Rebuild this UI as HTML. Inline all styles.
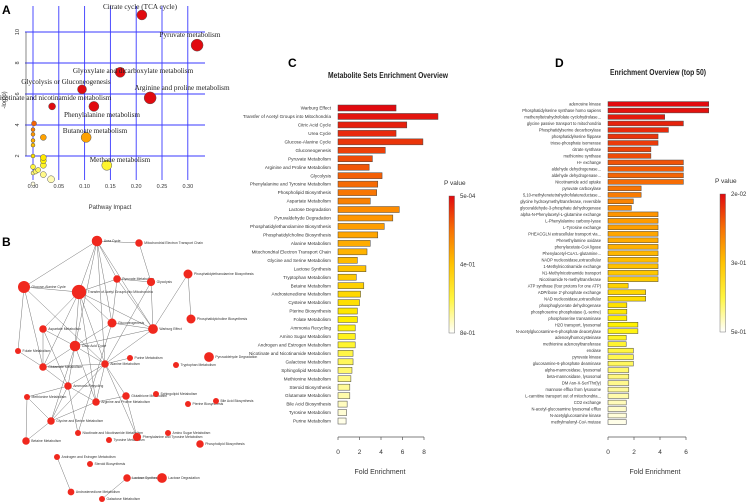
<!DOCTYPE html>
<html><head><meta charset="utf-8"><style>
html,body{margin:0;padding:0;background:#fff;}
svg{display:block;font-family:"Liberation Sans",sans-serif;}
</style></head><body>
<svg id="fig" width="748" height="504" viewBox="0 0 748 504" xmlns="http://www.w3.org/2000/svg">
<g id="pa"></g>
<g id="pb"></g>
<g id="pc"></g>
<g id="pd"></g>
<text x="2" y="14" font-size="12" font-weight="bold">A</text>
<text x="2" y="246" font-size="12" font-weight="bold">B</text>
<text x="288" y="67" font-size="12" font-weight="bold">C</text>
<text x="555" y="67" font-size="12" font-weight="bold">D</text>
</svg>
<script>
// ---------- Panel A data ----------
const aNames = ["Citrate cycle (TCA cycle)","Pyruvate metabolism","Glyoxylate and dicarboxylate metabolism","Glycolysis or Gluconeogenesis","Arginine and proline metabolism","Nicotinate and nicotinamide metabolism","Phenylalanine metabolism","Butanoate metabolism","Methane metabolism","","","","","","","","","","","","","","","","",""];
const aImpact = [0.211,0.318,0.169,0.095,0.227,0.037,0.118,0.103,0.143,0.002,0,0,0,0,0.02,0,0.02,0.02,0.02,0,0.005,0.01,0.02,0.035,0,0];
const aLogP = [11.1,9.15,7.4,6.3,5.75,5.2,5.2,3.2,1.4,4.1,3.7,3.4,3.0,2.7,3.2,2.0,1.9,1.7,1.4,1.3,1.0,1.1,0.8,0.5,0.2,0.9];
const aSize = [5,6,5,4.5,6,3.5,5,5,5,2.5,2,2,2,2,3,2,3,3,3,2.5,2.5,2.5,3,3.5,2,2];
const aXTicks = [0,0.05,0.10,0.15,0.20,0.25,0.30];
const aYTicks = [2,4,6,8,10];
const aLabelPos = [[140,9,"middle"],[190,37,"middle"],[133,73,"middle"],[66,84,"middle"],[182,90,"middle"],[53,100,"middle"],[102,117,"middle"],[95,133,"middle"],[120,162,"middle"]];

// ---------- Panel C data ----------
const cNames = ["Warburg Effect","Transfer of Acetyl Groups into Mitochondria","Citric Acid Cycle","Urea Cycle","Glucose-Alanine Cycle","Gluconeogenesis","Pyruvate Metabolism","Arginine and Proline Metabolism","Glycolysis","Phenylalanine and Tyrosine Metabolism","Phospholipid Biosynthesis","Aspartate Metabolism","Lactose Degradation","Pyruvaldehyde Degradation","Phosphatidylethanolamine Biosynthesis","Phosphatidylcholine Biosynthesis","Alanine Metabolism","Mitochondrial Electron Transport Chain","Glycine and Serine Metabolism","Lactose Synthesis","Tryptophan Metabolism","Betaine Metabolism","Androstenedione Metabolism","Cysteine Metabolism","Pterine Biosynthesis","Folate Metabolism","Ammonia Recycling","Amino Sugar Metabolism","Androgen and Estrogen Metabolism","Nicotinate and Nicotinamide Metabolism","Galactose Metabolism","Sphingolipid Metabolism","Methionine Metabolism","Steroid Biosynthesis","Glutamate Metabolism","Bile Acid Biosynthesis","Tyrosine Metabolism","Purine Metabolism"];
const cFold = [5.4,9.3,6.4,5.4,7.9,4.4,3.2,2.9,4.1,3.7,3.6,3.0,5.7,5.1,4.3,3.7,3.0,2.7,1.8,2.6,1.7,2.4,2.1,2.0,1.8,1.8,1.6,1.6,1.6,1.4,1.4,1.3,1.2,1.1,1.1,0.85,0.8,0.75];
const cTicks = [0,2,4,6,8];
const cLegendLabels = ["5e-04","4e-01","8e-01"];

// ---------- Panel D data ----------
const dNames = ["adenosine kinase","Phosphatidylserine synthase homo sapiens","methenyltetrahydrofolate cyclohydrolase...","glycine passive transport to mitochondria","Phosphatidylserine decarboxylase","phosphatidylserine flippase","triose-phosphate isomerase","citrate synthase","methionine synthase","H+ exchange","aldehyde dehydrogenase...","aldehyde dehydrogenase...","Nicotinamide acid uptake","pyruvate carboxylase","5,10-methylenetetrahydrofolatereductase...","glycine hydroxymethyltransferase, reversible","glyceraldehyde-3-phosphate dehydrogenase","alpha-N-Phenylacetyl-L-glutamine exchange","L-Phenylalanine carboxy-lyase","L-Tyrosine exchange","PHEACGLN extracellular transport via...","Phenethylamine oxidase","phenylacetate-CoA ligase","Phenylacetyl-CoA:L-glutamine...","NADP nucleosidase,extracellular","1-Methylnicotinamide exchange","N1-Methylnicotinamide transport","Nicotinamide N-methyltransferase","ATP synthase (four protons for one ATP)","ADPribose 2'-phosphate exchange","NAD nucleosidase,extracellular","phosphoglycerate dehydrogenase","phosphoserine phosphatase (L-serine)","phosphoserine transaminase","H2O transport, lysosomal","N-acetylglucosamine-6-phosphate deacetylase","adenosylhomocysteinase","methionine adenosyltransferase","enolase","pyruvate kinase","glucosamine-6-phosphate deaminase","alpha-mannosidase, lysosomal","beta-mannosidase, lysosomal","DM Asn-X-Ser/Thr(ly)","mannose efflux from lysosome","L-carnitine transport out of mitochondria...","CO2 exchange","N-acetyl-glucosamine lysosomal efflux","N-acetylglucosamine kinase","methylmalonyl-CoA mutase"];
const dFold = [7.75,7.75,4.36,5.8,4.65,3.85,3.85,3.3,3.3,5.8,5.8,5.8,5.8,2.55,2.55,1.95,1.8,3.85,3.85,3.85,3.85,3.85,3.85,3.85,3.85,3.85,3.85,3.85,1.55,2.9,2.9,1.45,1.45,1.45,2.3,2.3,1.4,1.4,1.95,1.95,1.95,1.6,1.6,1.6,1.6,1.6,1.4,1.4,1.4,1.4];
const dTicks = [0,2,4,6];
const dLegendLabels = ["2e-02","3e-01","5e-01"];

// ---------- Panel B data ----------
const bNames = ["Urea Cycle","Mitochondrial Electron Transport Chain","Glucose-Alanine Cycle","Transfer of Acetyl Groups into Mitochondria","Pyruvate Metabolism","Glycolysis","Phosphatidylethanolamine Biosynthesis","Phosphatidylcholine Biosynthesis","Gluconeogenesis","Warburg Effect","Aspartate Metabolism","Citric Acid Cycle","Folate Metabolism","Glutamate Metabolism","Alanine Metabolism","Purine Metabolism","Pyruvaldehyde Degradation","Tryptophan Metabolism","Ammonia Recycling","Glutathione Metabolism","Sphingolipid Metabolism","Methionine Metabolism","Arginine and Proline Metabolism","Pterine Biosynthesis","Bile Acid Biosynthesis","Glycine and Serine Metabolism","Nicotinate and Nicotinamide Metabolism","Tyrosine Metabolism","Phenylalanine and Tyrosine Metabolism","Amino Sugar Metabolism","Phospholipid Biosynthesis","Betaine Metabolism","Androgen and Estrogen Metabolism","Steroid Biosynthesis","Lactose Synthesis","Lactose Degradation","Androstenedione Metabolism","Galactose Metabolism"];
const bX = [97,139,24,79,117,151,188,191,112,153,43,75,18,43,105,130,209,176,68,126,156,27,96,188,216,51,78,109,137,168,200,26,57,90,127,162,71,102];
const bY = [241,243,287,292,279,282,274,319,323,329,329,346,351,367,364,358,357,365,386,396,394,397,402,404,401,421,433,440,437,433,444,441,457,464,478,478,492,499];
const bR = [7,5,8,9.5,5,5.5,6,6,6,6.5,5,7,4,5,5,4,6.5,4,5,5,4,4,5,4,4,5,4,4,5.5,4,5,5,4,4,5,6.5,4.5,4];
const bEdges = [[0,1],[1,5],[0,3],[0,4],[0,8],[0,9],[0,11],[0,14],[2,3],[2,12],[2,13],[2,14],[3,4],[3,8],[3,9],[3,11],[3,13],[3,14],[3,10],[4,9],[4,8],[5,9],[5,14],[8,11],[8,9],[10,11],[10,13],[10,18],[11,14],[11,9],[11,18],[11,22],[11,13],[11,25],[12,13],[13,18],[13,14],[14,18],[14,22],[14,25],[14,19],[14,9],[14,28],[14,15],[18,21],[18,25],[18,22],[18,26],[19,28],[19,22],[21,25],[21,31],[25,22],[25,31],[6,7],[32,36],[34,37],[34,35],[8,26],[3,22],[0,2],[4,5],[9,6]];

function heat(t){
  t=Math.max(0,Math.min(1,t));
  const st=[[0,[255,255,255]],[0.33,[255,242,0]],[0.66,[255,150,0]],[1,[225,10,15]]];
  for(let i=1;i<st.length;i++){ if(t<=st[i][0]){const a=st[i-1],b=st[i];const f=(t-a[0])/(b[0]-a[0]);
    return 'rgb('+a[1].map((v,k)=>Math.round(v+(b[1][k]-v)*f)).join(',')+')';}}
  return 'rgb(225,10,15)';
}
const NS='http://www.w3.org/2000/svg';
function mk(parent,tag,attrs,text){const e=document.createElementNS(NS,tag);for(const k in attrs)e.setAttribute(k,attrs[k]);if(text!==undefined)e.textContent=text;parent.appendChild(e);return e;}

// ---------- Panel A ----------
(function(){
  const g=document.getElementById('pa');
  const xS=v=>33+v/0.05*25.8, yS=v=>187-v*15.5;
  aXTicks.forEach(t=>{const l=mk(g,'line',{x1:xS(t),x2:xS(t),y1:6,y2:180,stroke:'#3a3aff','stroke-width':0.9});
    
    
    const tx=mk(g,'text',{x:xS(t),y:188,'font-size':5.5,'text-anchor':'middle',fill:'#333'},t.toFixed(2));
    
    });
  aYTicks.forEach(t=>{const l=mk(g,'line',{x1:25,x2:205,y1:yS(t),y2:yS(t),stroke:'#3a3aff','stroke-width':0.9});
    
    
    const tx=mk(g,'text',{x:19,y:yS(t),'font-size':5.5,'text-anchor':'middle',fill:'#333',transform:'rotate(-90 19 '+yS(t)+')'},String(t));
    
    });
  const ax=mk(g,'line',{x1:26,x2:26,y1:yS(10),y2:yS(2),stroke:'#555','stroke-width':0.7});
  
  
  const xt=mk(g,'text',{x:110,y:209,'font-size':6,'text-anchor':'middle',fill:'#333'},'Pathway Impact');
  
  
  const yt=mk(g,'text',{x:6,y:100,'font-size':6,'text-anchor':'middle',fill:'#333',transform:'rotate(-90 6 100)'},'-log(p)');
  
  
  const order=aImpact.map((_,i)=>i).sort((a,b)=>aLogP[a]-aLogP[b]);
  order.forEach(i=>{const c=mk(g,'circle',{cx:xS(aImpact[i]),cy:yS(aLogP[i]),r:aSize[i],fill:heat(aLogP[i]/5.2),stroke:'#555','stroke-width':0.5});
    
    });
  aLabelPos.forEach((p,i)=>{const t=mk(g,'text',{x:p[0],y:p[1],'font-size':7.2,'text-anchor':p[2],fill:'#222','font-family':'Liberation Serif,serif'},aNames[i]);
    
    });
})();

// ---------- Panel B ----------
(function(){
  const g=document.getElementById('pb');
  bEdges.forEach(e=>{const l=mk(g,'line',{x1:bX[e[0]],y1:bY[e[0]],x2:bX[e[1]],y2:bY[e[1]],stroke:'#777','stroke-width':0.5});
    
    });
  bNames.forEach((n,i)=>{const c=mk(g,'circle',{cx:bX[i],cy:bY[i],r:bR[i]*0.75,fill:'#f0281e'});
    
    
    const t=mk(g,'text',{x:bX[i]+bR[i]*0.75+1.5,y:bY[i]+1.2,'font-size':3.4,fill:'#333'},n);
    
    });
})();

// ---------- bar chart helper ----------
function bars(g,names,vals,o){
  const xS=v=>o.x0+v*o.unit;
  const t=mk(g,'text',{x:o.titleX,y:o.titleY,'font-size':8,'font-weight':'bold','text-anchor':'middle',fill:'#222',textLength:o.titleW,lengthAdjust:'spacingAndGlyphs'},o.title);
  
  
  const n=names.length;
  names.forEach((nm,i)=>{const y=o.y0+i*o.step;
    const r=mk(g,'rect',{x:o.x0,y:y-o.bh/2,width:Math.max(0,xS(vals[i])-o.x0),height:o.bh,fill:heat(1-i/(n-1)*0.97),stroke:'#444','stroke-width':0.5});
    
    
    const tx=mk(g,'text',{x:o.lx,y:y+1.6,'font-size':o.fs,'text-anchor':'end',fill:'#333'},nm);
    
    });
  const ticks=o.ticks;
  const ax=mk(g,'line',{x1:xS(ticks[0]),x2:xS(ticks[ticks.length-1]),y1:437,y2:437,stroke:'#555','stroke-width':0.7});
  
  
  ticks.forEach(tk=>{const l=mk(g,'line',{x1:xS(tk),x2:xS(tk),y1:437,y2:440,stroke:'#555','stroke-width':0.7});
    
    
    const tx=mk(g,'text',{x:xS(tk),y:454,'font-size':6.5,'text-anchor':'middle',fill:'#333'},String(tk));
    
    });
  const xt=mk(g,'text',{x:o.axTitleX,y:474,'font-size':7,'text-anchor':'middle',fill:'#333'},'Fold Enrichment');
  
  
  const gid='grad'+o.id;
  const defs=mk(g,'defs',{});
  const lg=mk(defs,'linearGradient',{id:gid,x1:0,y1:0,x2:0,y2:1});
  [0,0.25,0.5,0.75,1].forEach(s=>mk(lg,'stop',{offset:s,'stop-color':heat(1-s)}));
  const lt=mk(g,'text',{x:o.legX-5,y:o.legY0-11,'font-size':6.5,fill:'#333'},'P value');
  
  
  const cb=mk(g,'rect',{x:o.legX,y:o.legY0,width:5.5,height:o.legY1-o.legY0,fill:'url(#'+gid+')',stroke:'#555','stroke-width':0.4});
  
  
  o.legLabels.forEach((lb,k)=>{const yy=o.legY0+k*(o.legY1-o.legY0)/2;
    const tx=mk(g,'text',{x:o.legX+11,y:yy+2,'font-size':6,fill:'#333'},lb);
    
    });
}
bars(document.getElementById('pc'),cNames,cFold,{id:'c',x0:338,unit:10.75,y0:108,step:8.46,bh:6,lx:331,fs:4.6,ticks:cTicks,
  title:'Metabolite Sets Enrichment Overview',titleX:388,titleY:78,titleW:120,axTitleX:380,legX:449,legY0:196,legY1:333,legLabels:cLegendLabels});
bars(document.getElementById('pd'),dNames,dFold,{id:'d',x0:608,unit:13,y0:104,step:6.49,bh:4.8,lx:601,fs:4.1,ticks:dTicks,
  title:'Enrichment Overview (top 50)',titleX:658,titleY:75,titleW:96,axTitleX:655,legX:720,legY0:194,legY1:332,legLabels:dLegendLabels});
</script>
</body></html>
